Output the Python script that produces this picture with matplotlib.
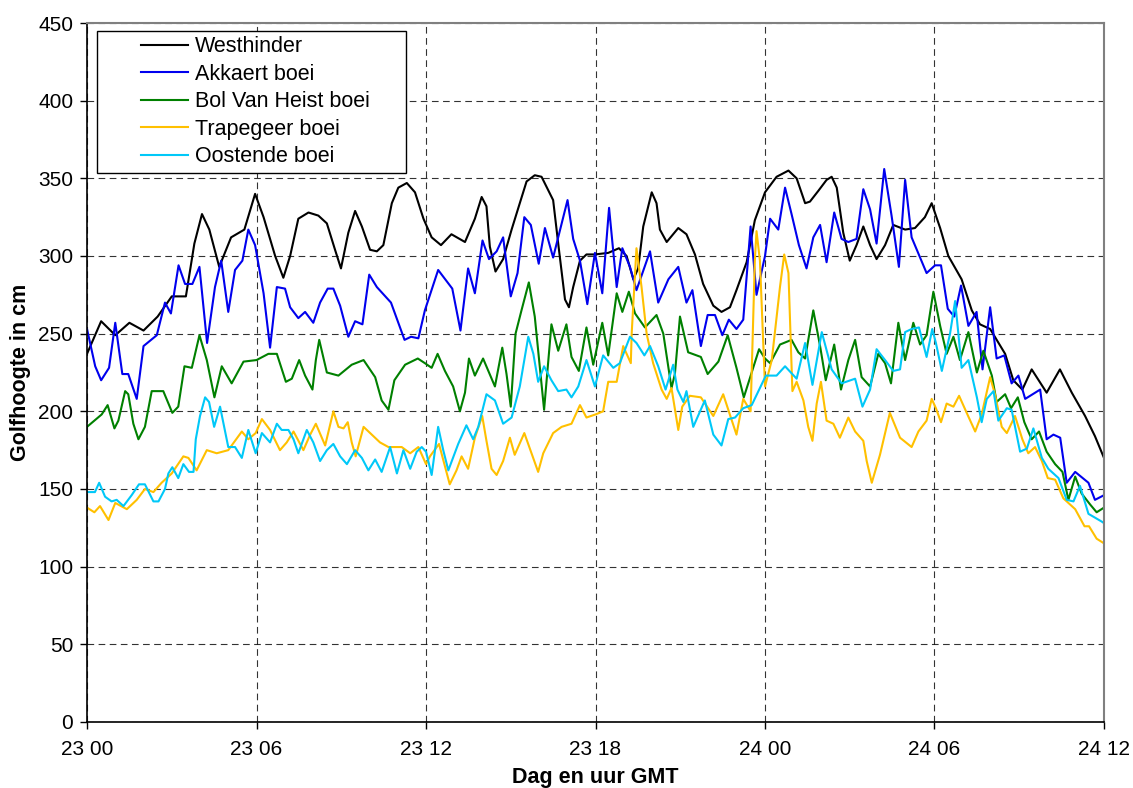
import matplotlib
matplotlib.use("Agg")
import matplotlib.pyplot as plt
from matplotlib.patches import Rectangle

# uur vanaf 23 00 GMT, golfhoogte in cm
west_h = [0.0, 0.5, 1.0, 1.5, 2.0, 2.5, 3.0, 3.5, 3.8, 4.07, 4.33, 4.68, 5.1, 5.57, 5.95,
          6.25, 6.66, 6.95, 7.19, 7.48, 7.84, 8.19, 8.49, 8.78, 8.99, 9.25, 9.49, 9.73,
          10.02, 10.26, 10.49, 10.79, 11.02, 11.32, 11.61, 11.91, 12.2, 12.53, 12.9, 13.38,
          13.73, 13.97, 14.14, 14.26, 14.46, 14.73, 15.03, 15.32, 15.56, 15.85, 16.09, 16.5,
          16.68, 16.92, 17.06, 17.21, 17.45, 17.68, 17.98, 18.45, 18.83, 19.1, 19.34, 19.51,
          19.69, 19.99, 20.16, 20.28, 20.52, 20.93, 21.22, 21.52, 21.81, 22.17, 22.46, 22.76,
          22.99, 23.35, 23.64, 24.0, 24.41, 24.83, 25.12, 25.42, 25.59, 25.89, 26.18, 26.36,
          26.54, 26.77, 27.0, 27.24, 27.48, 27.72, 27.95, 28.25, 28.54, 28.96, 29.31, 29.66,
          29.9, 30.2, 30.49, 30.96, 31.32, 31.61, 31.97, 32.5, 32.79, 33.11, 33.44, 33.97,
          34.44, 34.86, 35.33, 35.68, 36.0]
west_v = [237, 258, 249, 257, 252, 261, 274, 274, 308, 327, 317, 293, 312, 317, 340,
          325, 300, 286, 300, 324, 328, 326, 321, 304, 292, 315, 329, 319,
          304, 303, 307, 334, 344, 347, 341, 324, 312, 307, 314, 309,
          324, 338, 332, 306, 290, 298, 317, 334, 348, 352, 351, 336,
          308, 272, 267, 280, 297, 301, 301, 302, 305, 300, 285, 292,
          319, 341, 334, 317, 309, 318, 314, 301, 282, 268, 264, 267,
          278, 296, 323, 341, 351, 355, 350, 334, 335, 342, 349, 351,
          344, 315, 297, 307, 319, 307, 298, 307, 320, 317, 318, 325,
          334, 318, 300, 285, 265, 256, 253, 237, 220, 214, 227, 212,
          227, 212, 197, 184, 170]

akk_h = [0.0, 0.29, 0.5, 0.78, 1.0, 1.25, 1.46, 1.76, 2.0, 2.47, 2.76, 2.97, 3.24, 3.47,
         3.73, 3.98, 4.25, 4.53, 4.75, 5.0, 5.24, 5.5, 5.71, 5.95, 6.25, 6.48, 6.72, 7.01,
         7.19, 7.48, 7.72, 8.01, 8.25, 8.52, 8.72, 8.96, 9.25, 9.49, 9.75, 9.99, 10.26,
         10.76, 11.24, 11.47, 11.73, 11.96, 12.43, 12.93, 13.22, 13.49, 13.73, 14.0, 14.23,
         14.5, 14.73, 15.0, 15.24, 15.48, 15.71, 15.99, 16.21, 16.5, 17.01, 17.21, 17.45,
         17.71, 17.98, 18.24, 18.48, 18.75, 18.95, 19.22, 19.45, 19.93, 20.22, 20.58, 20.93,
         21.22, 21.43, 21.73, 21.97, 22.23, 22.49, 22.72, 22.99, 23.23, 23.49, 23.7, 24.0,
         24.18, 24.47, 24.71, 24.94, 25.2, 25.47, 25.71, 25.95, 26.18, 26.45, 26.71, 26.95,
         27.24, 27.48, 27.72, 27.95, 28.22, 28.48, 28.74, 28.96, 29.19, 29.49, 29.72, 30.02,
         30.23, 30.47, 30.7, 30.94, 31.2, 31.49, 31.7, 31.97, 32.2, 32.47, 32.73, 32.97,
         33.21, 33.74, 33.97, 34.21, 34.45, 34.68, 34.98, 35.45, 35.68, 36.0]
akk_v = [253, 229, 220, 228, 257, 224, 224, 208, 242, 249, 270, 263, 294, 282,
         282, 293, 244, 280, 297, 264, 291, 297, 317, 307, 276, 241, 280, 279,
         267, 260, 264, 257, 270, 279, 279, 268, 248, 258, 256, 288, 280,
         270, 246, 248, 247, 265, 291, 279, 252, 292, 276, 310, 298,
         303, 312, 274, 289, 325, 320, 295, 318, 299, 336, 311, 297,
         269, 302, 276, 331, 280, 305, 293, 278, 303, 270, 285, 293,
         270, 278, 242, 262, 262, 249, 259, 253, 259, 319, 275, 300,
         324, 317, 344, 327, 307, 292, 312, 320, 296, 328, 311, 309,
         311, 343, 330, 308, 356, 326, 293, 349, 312, 299, 289, 294,
         294, 266, 261, 281, 255, 264, 227, 267, 234, 236, 218, 223,
         208, 214, 182, 185, 183, 154, 161, 154, 143, 146]

bol_h = [0.0, 0.52, 0.73, 0.97, 1.11, 1.35, 1.46, 1.64, 1.82, 2.05, 2.29, 2.7, 3.02, 3.23,
         3.45, 3.71, 3.98, 4.24, 4.51, 4.77, 5.12, 5.54, 6.0, 6.42, 6.72, 7.04, 7.25, 7.51,
         7.72, 7.98, 8.1, 8.22, 8.49, 8.9, 9.37, 9.79, 10.2, 10.43, 10.67, 10.88, 11.26,
         11.71, 11.96, 12.2, 12.41, 12.67, 12.96, 13.2, 13.38, 13.52, 13.73, 14.02, 14.44,
         14.7, 14.85, 15.0, 15.17, 15.38, 15.64, 15.85, 16.18, 16.44, 16.68, 16.97, 17.15,
         17.41, 17.68, 17.92, 18.24, 18.45, 18.75, 18.95, 19.18, 19.4, 19.75, 20.16, 20.4,
         20.69, 20.81, 20.99, 21.28, 21.73, 21.97, 22.35, 22.68, 22.99, 23.25, 23.53, 23.79,
         24.0, 24.18, 24.53, 24.94, 25.18, 25.42, 25.71, 25.95, 26.15, 26.45, 26.69, 26.95,
         27.19, 27.42, 27.72, 28.01, 28.25, 28.46, 28.72, 28.96, 29.25, 29.49, 29.72, 29.96,
         30.2, 30.43, 30.67, 30.9, 31.2, 31.5, 31.73, 32.03, 32.2, 32.5, 32.71, 32.95,
         33.18, 33.44, 33.7, 33.97, 34.27, 34.53, 34.74, 34.98, 35.21, 35.51, 35.74, 36.0]
bol_v = [190, 198, 204, 189, 194, 213, 211, 192, 182, 190, 213, 213, 199, 203,
         229, 228, 249, 233, 209, 229, 218, 232, 233, 237, 237, 219, 221, 233,
         223, 214, 233, 246, 225, 223, 230, 233, 222, 207, 201, 220, 230,
         234, 231, 228, 237, 226, 216, 200, 212, 234, 223, 234, 216,
         241, 224, 203, 250, 265, 283, 261, 201, 256, 239, 256, 235,
         226, 254, 230, 257, 236, 276, 264, 277, 263, 254, 262, 250,
         215, 224, 261, 238, 235, 224, 232, 249, 228, 209, 225, 240,
         234, 231, 243, 246, 238, 234, 265, 242, 220, 243, 214, 233,
         246, 222, 216, 237, 231, 218, 257, 233, 257, 243, 249, 277,
         255, 237, 248, 233, 251, 225, 239, 223, 206, 211, 202, 209,
         193, 182, 187, 174, 166, 161, 143, 158, 147, 140, 135, 138]

trap_h = [0.0, 0.26, 0.46, 0.76, 1.0, 1.41, 1.76, 2.05, 2.35, 2.64, 3.0, 3.41, 3.59, 3.88,
          4.24, 4.59, 5.0, 5.48, 5.71, 5.97, 6.19, 6.48, 6.83, 7.07, 7.31, 7.66, 7.9, 8.1,
          8.43, 8.72, 8.9, 9.08, 9.23, 9.37, 9.51, 9.79, 10.08, 10.37, 10.67, 11.14, 11.44,
          11.73, 12.0, 12.14, 12.46, 12.84, 13.08, 13.26, 13.49, 13.73, 13.99, 14.14, 14.32,
          14.5, 14.73, 14.97, 15.14, 15.48, 15.97, 16.15, 16.5, 16.8, 17.15, 17.45, 17.68,
          18.0, 18.27, 18.45, 18.75, 18.98, 19.25, 19.28, 19.45, 19.63, 19.81, 20.04, 20.34,
          20.52, 20.69, 20.93, 21.07, 21.34, 21.73, 22.17, 22.52, 22.72, 22.99, 23.23, 23.49,
          23.64, 23.7, 23.82, 24.0, 24.24, 24.53, 24.68, 24.83, 24.97, 25.12, 25.36, 25.53,
          25.68, 25.83, 25.98, 26.18, 26.42, 26.65, 26.95, 27.19, 27.48, 27.6, 27.78, 28.07,
          28.42, 28.78, 29.19, 29.43, 29.72, 29.9, 30.05, 30.23, 30.43, 30.67, 30.87, 31.14,
          31.44, 31.67, 31.97, 32.14, 32.38, 32.56, 32.85, 33.11, 33.32, 33.56, 33.8, 34.01,
          34.27, 34.56, 34.98, 35.31, 35.47, 35.74, 36.0]
trap_v = [138, 135, 139, 130, 141, 137, 143, 150, 148, 154, 160, 171, 170, 162,
          175, 173, 175, 187, 182, 186, 195, 188, 175, 180, 187, 175, 185, 192,
          178, 200, 190, 189, 193, 180, 171, 190, 185, 180, 177, 177, 173,
          177, 166, 171, 179, 153, 162, 171, 163, 183, 197, 181, 163,
          159, 168, 183, 172, 186, 161, 173, 186, 190, 192, 204, 196,
          198, 200, 219, 219, 242, 231, 250, 305, 280, 250, 231, 214,
          208, 215, 188, 203, 210, 209, 197, 211, 200, 185, 208, 200,
          297, 316, 297, 216, 233, 280, 301, 289, 213, 219, 207, 190,
          181, 205, 219, 194, 192, 183, 196, 187, 181, 168, 154, 172,
          199, 183, 177, 187, 194, 208, 202, 193, 205, 203, 210, 199,
          187, 198, 222, 211, 190, 186, 197, 182, 173, 177, 168, 157,
          156, 144, 137, 126, 126, 118, 115]

oost_h = [0.0, 0.28, 0.43, 0.64, 0.87, 1.05, 1.29, 1.58, 1.84, 2.05, 2.35, 2.53, 2.76, 2.88,
          3.02, 3.23, 3.41, 3.61, 3.77, 3.85, 4.0, 4.18, 4.32, 4.5, 4.71, 5.0, 5.24, 5.48,
          5.71, 5.97, 6.19, 6.48, 6.72, 6.89, 7.13, 7.31, 7.48, 7.78, 8.01, 8.25, 8.49, 8.72,
          8.96, 9.2, 9.49, 9.73, 9.96, 10.2, 10.43, 10.73, 10.97, 11.2, 11.44, 11.67, 11.85,
          12.0, 12.2, 12.43, 12.61, 12.79, 13.14, 13.43, 13.67, 13.85, 14.14, 14.44, 14.73,
          15.03, 15.32, 15.62, 15.8, 15.97, 16.18, 16.44, 16.68, 16.97, 17.15, 17.39, 17.68,
          17.98, 18.27, 18.63, 18.86, 19.22, 19.45, 19.73, 19.93, 20.22, 20.48, 20.75, 20.9,
          21.11, 21.22, 21.46, 21.87, 22.17, 22.46, 22.7, 22.94, 23.23, 23.53, 24.03, 24.41,
          24.71, 25.12, 25.42, 25.68, 26.01, 26.36, 26.71, 27.19, 27.45, 27.72, 27.95, 28.25,
          28.54, 28.78, 28.96, 29.19, 29.45, 29.72, 29.92, 30.05, 30.26, 30.55, 30.73, 30.85,
          30.96, 31.2, 31.5, 31.67, 31.85, 32.09, 32.26, 32.56, 32.73, 33.03, 33.27, 33.5,
          33.8, 34.03, 34.39, 34.68, 34.92, 35.15, 35.45, 35.92, 36.0]
oost_v = [148, 148, 154, 145, 142, 143, 139, 146, 153, 153, 142, 142, 150, 160,
          164, 157, 166, 161, 161, 182, 197, 209, 206, 190, 203, 177, 177, 170,
          188, 173, 186, 180, 192, 188, 188, 182, 173, 188, 180, 168, 175, 179,
          171, 166, 175, 170, 162, 169, 161, 177, 160, 175, 163, 174, 177,
          174, 159, 190, 175, 162, 179, 191, 182, 190, 211, 207, 192,
          196, 216, 248, 237, 219, 229, 220, 213, 214, 209, 216, 233,
          216, 236, 228, 231, 248, 244, 236, 242, 229, 214, 230, 214,
          206, 213, 190, 207, 185, 178, 195, 196, 202, 204, 223, 223,
          229, 221, 244, 217, 251, 227, 218, 221, 203, 214, 240, 233,
          226, 227, 251, 253, 254, 235, 253, 244, 226, 250, 271, 249,
          228, 233, 209, 193, 208, 213, 194, 202, 201, 174, 176, 189,
          170, 163, 157, 143, 142, 152, 134, 129, 128]

tick_hours = [0, 6, 12, 18, 24, 30, 36]
tick_labels = ["23 00", "23 06", "23 12", "23 18", "24 00", "24 06", "24 12"]

plt.rcParams['font.family'] = ['Liberation Sans', 'DejaVu Sans']

fig = plt.figure(figsize=(11.33, 7.88), dpi=100)
ax = fig.add_axes([0.0768, 0.0838, 0.8976, 0.887])

lw = 1.5
ax.plot(west_h, west_v, color='black', lw=lw, label='Westhinder')
ax.plot(akk_h, akk_v, color='#0000EE', lw=lw, label='Akkaert boei')
ax.plot(bol_h, bol_v, color='#008000', lw=lw, label='Bol Van Heist boei')
ax.plot(trap_h, trap_v, color='#FFC000', lw=lw, label='Trapegeer boei')
ax.plot(oost_h, oost_v, color='#00C8F8', lw=lw, label='Oostende boei')

ax.set_xlim(0, 36)
ax.set_ylim(0, 450)
ax.set_xticks(tick_hours)
ax.set_xticklabels(tick_labels)
ax.set_yticks(range(0, 451, 50))
ax.tick_params(axis='both', labelsize=15, length=5, width=1, direction='out')
ax.tick_params(axis='y', pad=5)
ax.tick_params(axis='x', pad=8)

ax.grid(True, color='black', linestyle=(0, (6, 4)), linewidth=0.8, alpha=0.8)
ax.set_axisbelow(True)

for side in ['top', 'right']:
    ax.spines[side].set_color('#808080')
    ax.spines[side].set_linewidth(1.5)
for side in ['left', 'bottom']:
    ax.spines[side].set_color('black')
    ax.spines[side].set_linewidth(1.2)

ax.set_xlabel('Dag en uur GMT', fontsize=15.5, fontweight='bold', labelpad=6)
ax.set_ylabel('Golfhoogte in cm', fontsize=15.5, fontweight='bold', labelpad=5)

# legendekader
ax.add_patch(Rectangle((0.0098, 0.7854), 0.3039, 0.2032, transform=ax.transAxes,
                       facecolor='white', edgecolor='black', linewidth=1.0, zorder=5))
leg = ax.legend(loc='upper left', bbox_to_anchor=(0.053, 0.981), frameon=False,
                fontsize=15.5, handlelength=2.2, handletextpad=0.33,
                labelspacing=0.3, borderpad=0, borderaxespad=0)
leg.set_zorder(6)

fig.savefig('out.png', dpi=100)
